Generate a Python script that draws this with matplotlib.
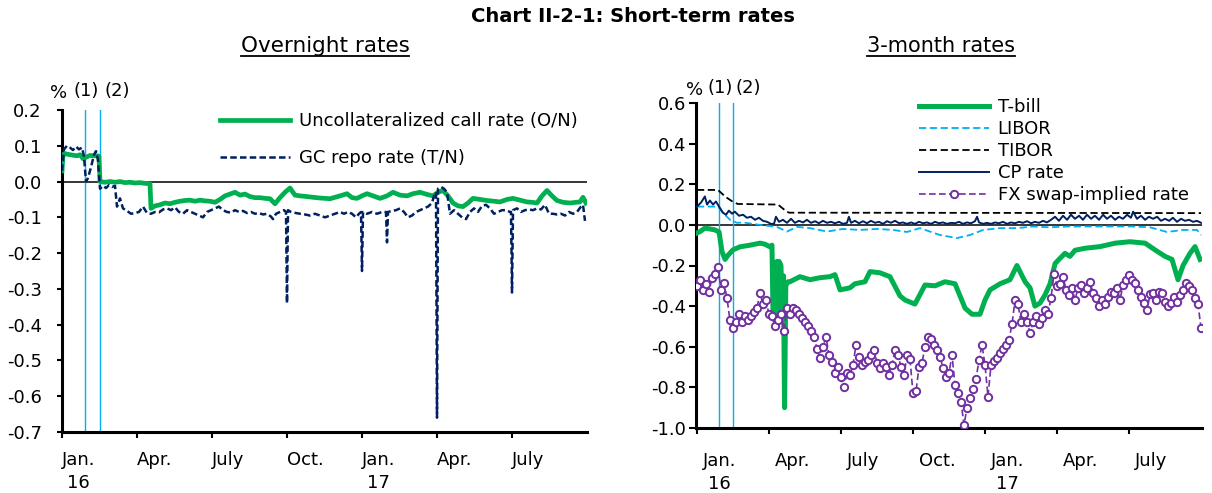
import matplotlib
matplotlib.use('Agg')
import matplotlib.pyplot as plt
import matplotlib.ticker as mticker
import matplotlib.transforms as mtransforms
import numpy as np

# time axis: months since 1 Jan. 2016 (3 = Apr. 16, 12 = Jan. 17)
tick_t = [0, 3, 6, 9, 12, 15, 18]
tick_labels = ['Jan.\n16', 'Apr.', 'July', 'Oct.', 'Jan.\n17', 'Apr.', 'July']

# (1) 29 Jan. 2016, (2) 16 Feb. 2016
event_t = [0.92, 1.5]
event_labels = ['(1)', '(2)']

# ---- overnight rates ----
call_t = [0.0, 0.04, 0.12, 0.32, 0.6, 0.72, 0.84, 0.96, 1.12, 1.24,
          1.44, 1.48, 1.52, 1.72, 1.92, 2.12, 2.32, 2.52, 2.72, 2.92,
          3.12, 3.32, 3.52, 3.56, 3.72, 3.92, 4.12, 4.32, 4.52, 4.72,
          4.92, 5.12, 5.32, 5.52, 5.72, 5.92, 6.12, 6.32, 6.52, 6.72,
          6.92, 7.12, 7.32, 7.52, 7.72, 7.92, 8.12, 8.32, 8.52, 8.72,
          8.92, 9.12, 9.32, 9.52, 9.8, 10.04, 10.32, 10.72, 11.12, 11.4,
          11.6, 11.8, 12.0, 12.2, 12.44, 12.72, 13.0, 13.24, 13.52, 13.8,
          14.04, 14.32, 14.6, 14.84, 15.04, 15.24, 15.44, 15.64, 15.84, 16.04,
          16.24, 16.44, 16.72, 17.0, 17.28, 17.52, 17.8, 18.04, 18.32, 18.6,
          18.8, 19.0, 19.2, 19.4, 19.6, 19.8, 20.04, 20.32, 20.56, 20.72,
          20.84, 20.96]
call_v = [0.03, 0.075, 0.078, 0.075, 0.072, 0.075, 0.064, 0.068, 0.073, 0.072,
          0.072, 0.07, 0.0, -0.002, 0.0, -0.002, 0.0, -0.003, -0.002, -0.004,
          -0.003, -0.005, -0.006, -0.075, -0.068, -0.065, -0.06, -0.062, -0.058, -0.055,
          -0.053, -0.052, -0.055, -0.052, -0.054, -0.055, -0.058, -0.05, -0.04, -0.035,
          -0.03, -0.038, -0.035, -0.042, -0.045, -0.045, -0.047, -0.048, -0.062, -0.045,
          -0.03, -0.018, -0.038, -0.04, -0.042, -0.044, -0.046, -0.048, -0.04, -0.034,
          -0.045, -0.047, -0.04, -0.034, -0.04, -0.047, -0.04, -0.03, -0.038, -0.04,
          -0.034, -0.03, -0.036, -0.04, -0.03, -0.025, -0.04, -0.06, -0.068, -0.07,
          -0.06, -0.047, -0.05, -0.053, -0.055, -0.057, -0.05, -0.047, -0.052, -0.057,
          -0.058, -0.06, -0.04, -0.025, -0.04, -0.053, -0.058, -0.06, -0.058, -0.057,
          -0.044, -0.06]

repo_t = [0.0, 0.08, 0.2, 0.32, 0.44, 0.56, 0.68, 0.8, 0.88, 0.96,
          1.04, 1.16, 1.28, 1.36, 1.44, 1.52, 1.64, 1.76, 1.88, 2.0,
          2.12, 2.2, 2.32, 2.44, 2.6, 2.76, 2.92, 3.08, 3.24, 3.4,
          3.56, 3.72, 3.88, 4.04, 4.2, 4.36, 4.52, 4.68, 4.84, 5.0,
          5.16, 5.32, 5.48, 5.64, 5.8, 5.96, 6.12, 6.28, 6.44, 6.6,
          6.76, 6.92, 7.08, 7.24, 7.4, 7.56, 7.72, 7.88, 8.04, 8.2,
          8.36, 8.44, 8.56, 8.72, 8.88, 8.96, 9.0, 9.04, 9.16, 9.36,
          9.52, 9.72, 9.92, 10.12, 10.32, 10.52, 10.72, 10.92, 11.12, 11.28,
          11.44, 11.6, 11.76, 11.88, 11.96, 12.0, 12.04, 12.2, 12.4, 12.6,
          12.8, 12.96, 13.0, 13.04, 13.2, 13.36, 13.52, 13.68, 13.84, 14.0,
          14.16, 14.32, 14.48, 14.64, 14.8, 14.88, 14.96, 15.0, 15.04, 15.16,
          15.28, 15.4, 15.52, 15.68, 15.84, 16.0, 16.16, 16.32, 16.48, 16.64,
          16.8, 16.96, 17.12, 17.28, 17.44, 17.6, 17.76, 17.92, 17.96, 18.0,
          18.04, 18.2, 18.36, 18.52, 18.68, 18.84, 19.0, 19.16, 19.32, 19.48,
          19.64, 19.8, 19.96, 20.12, 20.28, 20.44, 20.6, 20.76, 20.84, 20.92]
repo_v = [0.03, 0.09, 0.1, 0.095, 0.088, 0.098, 0.09, 0.095, 0.07, 0.0,
          0.01, 0.04, 0.075, 0.085, 0.06, -0.02, -0.012, -0.018, -0.01, -0.015,
          -0.012, -0.07, -0.047, -0.075, -0.082, -0.09, -0.088, -0.085, -0.07, -0.088,
          -0.09, -0.085, -0.086, -0.078, -0.075, -0.08, -0.072, -0.085, -0.09, -0.08,
          -0.085, -0.09, -0.095, -0.1, -0.085, -0.08, -0.075, -0.07, -0.08, -0.085,
          -0.087, -0.08, -0.085, -0.082, -0.088, -0.085, -0.09, -0.088, -0.092, -0.09,
          -0.098, -0.105, -0.09, -0.085, -0.08, -0.085, -0.34, -0.08, -0.085, -0.088,
          -0.09, -0.092, -0.095, -0.09, -0.095, -0.1, -0.095, -0.09, -0.085, -0.09,
          -0.085, -0.09, -0.1, -0.09, -0.085, -0.25, -0.085, -0.09, -0.085, -0.09,
          -0.085, -0.085, -0.17, -0.085, -0.082, -0.08, -0.075, -0.085, -0.1, -0.095,
          -0.085, -0.08, -0.075, -0.07, -0.06, -0.04, -0.03, -0.66, -0.02, -0.015,
          -0.02, -0.03, -0.09, -0.08, -0.09, -0.1, -0.105, -0.085, -0.075, -0.085,
          -0.068, -0.065, -0.075, -0.09, -0.085, -0.08, -0.08, -0.085, -0.085, -0.31,
          -0.08, -0.075, -0.085, -0.08, -0.078, -0.08, -0.075, -0.078, -0.065, -0.09,
          -0.09, -0.092, -0.09, -0.095, -0.085, -0.09, -0.085, -0.07, -0.065, -0.11]

# ---- 3-month rates ----
tbill_t = [0.0, 0.125, 0.33, 0.54, 0.75, 0.92, 1.04, 1.17, 1.29, 1.5,
           1.79, 2.21, 2.625, 2.83, 3.04, 3.125, 3.17, 3.21, 3.33, 3.375,
           3.42, 3.5, 3.55, 3.6, 3.65, 3.7, 3.79, 3.875, 4.29, 4.71,
           5.125, 5.54, 5.75, 5.96, 6.375, 6.58, 7.0, 7.21, 7.625, 8.04,
           8.46, 8.67, 9.08, 9.5, 9.92, 10.33, 10.75, 11.17, 11.46, 11.79,
           12.0, 12.21, 12.625, 13.04, 13.33, 13.67, 13.875, 14.08, 14.29, 14.5,
           14.71, 14.92, 15.125, 15.33, 15.54, 15.75, 16.17, 16.79, 17.42, 18.04,
           18.67, 19.08, 19.5, 19.79, 20.04, 20.25, 20.54, 20.75, 20.96]
tbill_v = [-0.04, -0.033, -0.016, -0.02, -0.025, -0.035, -0.13, -0.17, -0.15, -0.123,
           -0.108, -0.1, -0.09, -0.095, -0.108, -0.1, -0.45, -0.38, -0.18, -0.45,
           -0.18, -0.2, -0.45, -0.25, -0.9, -0.3, -0.28, -0.28, -0.255, -0.27,
           -0.26, -0.255, -0.245, -0.32, -0.31, -0.29, -0.28, -0.23, -0.236, -0.255,
           -0.35, -0.37, -0.39, -0.296, -0.3, -0.28, -0.29, -0.41, -0.44, -0.44,
           -0.37, -0.32, -0.29, -0.27, -0.2, -0.28, -0.31, -0.4, -0.385, -0.345,
           -0.29, -0.19, -0.165, -0.14, -0.155, -0.125, -0.115, -0.107, -0.09, -0.083,
           -0.09, -0.123, -0.155, -0.17, -0.27, -0.2, -0.14, -0.107, -0.17]

libor_t = [0.0, 0.875, 1.08, 1.375, 1.67, 1.92, 2.625, 3.33, 3.75, 4.17,
           4.71, 5.42, 6.08, 6.79, 7.5, 8.17, 8.75, 9.29, 10.125, 10.83,
           11.375, 11.92, 12.625, 13.33, 14.0, 14.71, 15.42, 16.25, 16.79, 17.5,
           18.17, 18.875, 19.58, 20.25, 20.83, 21.0]
libor_v = [0.09, 0.09, 0.06, 0.025, 0.01, 0.012, 0.0, -0.01, -0.033, -0.01,
           -0.016, -0.033, -0.02, -0.025, -0.02, -0.025, -0.035, -0.016, -0.05, -0.065,
           -0.05, -0.025, -0.016, -0.016, -0.008, -0.012, -0.008, -0.008, -0.008, -0.008,
           -0.008, -0.012, -0.035, -0.025, -0.025, -0.05]

tibor_t = [0.0, 0.875, 1.17, 1.5, 1.7, 3.375, 3.75, 3.85, 21.0]
tibor_v = [0.172, 0.172, 0.14, 0.113, 0.103, 0.10, 0.064, 0.06, 0.058]

cp_t = [0.0, 0.17, 0.33, 0.42, 0.54, 0.67, 0.79, 0.92, 1.08, 1.21,
        1.33, 1.46, 1.58, 1.75, 1.92, 2.08, 2.25, 2.42, 2.58, 2.75,
        2.92, 3.08, 3.21, 3.29, 3.42, 3.58, 3.75, 3.92, 4.08, 4.25,
        4.42, 4.58, 4.75, 4.92, 5.08, 5.25, 5.42, 5.58, 5.75, 5.92,
        6.08, 6.25, 6.33, 6.42, 6.58, 6.75, 6.92, 7.08, 7.25, 7.42,
        7.58, 7.75, 7.92, 8.08, 8.25, 8.42, 8.58, 8.75, 8.92, 9.08,
        9.25, 9.42, 9.58, 9.75, 9.92, 10.08, 10.25, 10.42, 10.58, 10.75,
        10.92, 11.08, 11.25, 11.42, 11.58, 11.67, 11.75, 11.92, 12.08, 12.25,
        12.42, 12.58, 12.75, 12.92, 13.08, 13.25, 13.42, 13.58, 13.75, 13.92,
        14.08, 14.25, 14.42, 14.58, 14.75, 14.92, 15.08, 15.25, 15.42, 15.58,
        15.75, 15.92, 16.08, 16.25, 16.42, 16.58, 16.75, 16.92, 17.08, 17.25,
        17.42, 17.58, 17.75, 17.92, 18.08, 18.17, 18.33, 18.5, 18.67, 18.83,
        19.0, 19.17, 19.33, 19.5, 19.67, 19.83, 20.0, 20.17, 20.33, 20.5,
        20.67, 20.83, 21.0]
cp_v = [0.09, 0.11, 0.14, 0.10, 0.12, 0.10, 0.115, 0.09, 0.06, 0.05,
        0.07, 0.055, 0.065, 0.045, 0.05, 0.035, 0.04, 0.025, 0.035, 0.02,
        0.015, 0.005, 0.005, 0.04, 0.015, 0.025, 0.01, 0.03, 0.01, 0.02,
        0.012, 0.025, 0.01, 0.018, 0.008, 0.02, 0.01, 0.015, 0.008, 0.015,
        0.005, 0.01, 0.04, 0.01, 0.02, 0.008, 0.018, 0.008, 0.02, 0.01,
        0.015, 0.005, 0.018, 0.01, 0.02, 0.008, 0.012, 0.005, 0.012, 0.005,
        0.015, 0.008, 0.012, 0.005, 0.015, 0.008, 0.012, 0.005, 0.01, 0.008,
        0.015, 0.005, 0.012, 0.008, 0.018, 0.04, 0.012, 0.005, 0.01, 0.005,
        0.012, 0.008, 0.015, 0.005, 0.012, 0.008, 0.015, 0.01, 0.018, 0.008,
        0.015, 0.01, 0.02, 0.012, 0.025, 0.04, 0.02, 0.045, 0.025, 0.05,
        0.03, 0.045, 0.025, 0.05, 0.03, 0.045, 0.025, 0.05, 0.03, 0.045,
        0.025, 0.04, 0.03, 0.05, 0.035, 0.065, 0.03, 0.045, 0.025, 0.04,
        0.03, 0.04, 0.02, 0.03, 0.02, 0.035, 0.015, 0.03, 0.02, 0.025,
        0.015, 0.02, 0.01]

# fx swap-implied rate, read every 1/8 month from the start of 2016
fx_v = [-0.30, -0.27, -0.32, -0.29, -0.33, -0.26, -0.24, -0.205, -0.32, -0.285,
        -0.36, -0.47, -0.51, -0.48, -0.44, -0.48, -0.45, -0.47, -0.45, -0.43,
        -0.41, -0.335, -0.39, -0.37, -0.44, -0.45, -0.50, -0.47, -0.44, -0.52,
        -0.41, -0.44, -0.41, -0.42, -0.44, -0.46, -0.48, -0.50, -0.52, -0.55,
        -0.61, -0.655, -0.60, -0.55, -0.64, -0.675, -0.73, -0.70, -0.75, -0.80,
        -0.73, -0.74, -0.69, -0.59, -0.65, -0.69, -0.675, -0.665, -0.64, -0.615,
        -0.68, -0.705, -0.68, -0.70, -0.74, -0.69, -0.615, -0.64, -0.70, -0.74,
        -0.64, -0.66, -0.83, -0.82, -0.70, -0.68, -0.60, -0.55, -0.56, -0.59,
        -0.615, -0.65, -0.705, -0.75, -0.73, -0.64, -0.79, -0.83, -0.87, -0.985,
        -0.90, -0.85, -0.81, -0.76, -0.665, -0.59, -0.69, -0.845, -0.69, -0.67,
        -0.655, -0.63, -0.61, -0.59, -0.565, -0.49, -0.37, -0.39, -0.48, -0.44,
        -0.48, -0.53, -0.48, -0.45, -0.49, -0.46, -0.42, -0.44, -0.36, -0.24,
        -0.30, -0.29, -0.255, -0.32, -0.345, -0.31, -0.37, -0.31, -0.295, -0.335,
        -0.31, -0.28, -0.335, -0.36, -0.40, -0.37, -0.39, -0.355, -0.33, -0.335,
        -0.31, -0.37, -0.295, -0.27, -0.245, -0.27, -0.285, -0.32, -0.355, -0.385,
        -0.42, -0.34, -0.335, -0.37, -0.33, -0.335, -0.38, -0.40, -0.385, -0.355,
        -0.38, -0.345, -0.32, -0.285, -0.30, -0.32, -0.36, -0.39, -0.51]
fx_t = np.arange(len(fx_v)) / 8

GREEN = '#00b050'
NAVY = '#002060'
SKY = '#00b0f0'
PURPLE = '#7030a0'

plt.rcParams['font.family'] = 'DejaVu Sans'
plt.rcParams['font.size'] = 13

W, H = 1212, 493
fig = plt.figure(figsize=(W / 100, H / 100), dpi=100)


def fmt(v, pos):
    return f"{round(v, 1) + 0.0:.1f}"


def style_axis(ax, ylo, yhi, ystep, ypad, ylen):
    ax.set_ylim(ylo, yhi)
    ax.yaxis.set_major_locator(mticker.MultipleLocator(ystep))
    ax.yaxis.set_major_formatter(mticker.FuncFormatter(fmt))
    for side in ['top', 'right']:
        ax.spines[side].set_visible(False)
    for side in ['left', 'bottom']:
        ax.spines[side].set_linewidth(2.2)
    ax.tick_params(axis='y', direction='out', length=ylen, width=1.5, pad=ypad, labelsize=13)
    ax.tick_params(axis='x', direction='out', length=4.5, width=1.5, labelsize=13)
    ax.set_xticks(tick_t, tick_labels)
    for lbl in ax.get_xticklabels():
        lbl.set_horizontalalignment('left')
        lbl.set_multialignment('center')
        lbl.set_linespacing(1.35)
    ax.axhline(0, color='black', lw=1.1, zorder=1)
    for t in event_t:
        ax.axvline(t, color=SKY, lw=1.0, zorder=1)


# overnight rates panel
ax1 = fig.add_axes([62 / W, 1 - 432 / H, 525 / W, 322 / H])
ax1.plot(call_t, call_v, color=GREEN, lw=3.4, label='Uncollateralized call rate (O/N)', zorder=3)
ax1.plot(repo_t, repo_v, color=NAVY, lw=1.8, dashes=(2.6, 1.3),
         label='GC repo rate (T/N)', zorder=4)
ax1.set_xlim(0, 21)
style_axis(ax1, -0.7, 0.2, 0.1, 11, 3.5)
ax1.tick_params(axis='x', pad=9)
ax1.legend(loc='upper left', bbox_to_anchor=(220 / W, 1 - 112 / H),
           bbox_transform=fig.transFigure, frameon=False, fontsize=13,
           handlelength=3.9, handletextpad=0.45, labelspacing=1.05,
           borderpad=0, borderaxespad=0)

# 3-month rates panel
ax2 = fig.add_axes([696 / W, 1 - 428 / H, 506 / W, 325 / H])
ax2.plot(tbill_t, tbill_v, color=GREEN, lw=3.6, label='T-bill', zorder=3)
ax2.plot(libor_t, libor_v, color=SKY, lw=1.3, dashes=(4, 2), label='LIBOR', zorder=3)
ax2.plot(tibor_t, tibor_v, color='black', lw=1.3, dashes=(4, 2), label='TIBOR', zorder=3)
ax2.plot(cp_t, cp_v, color=NAVY, lw=1.4, label='CP rate', zorder=4)
ax2.plot(fx_t, fx_v, color=PURPLE, lw=1.2, dashes=(4, 2), marker='o', ms=5.3,
         mfc='white', mec=PURPLE, mew=1.4, label='FX swap-implied rate', zorder=5)
ax2.set_xlim(-0.04, 21.04)
style_axis(ax2, -1.0, 0.6, 0.2, 2, 5)
ax2.tick_params(axis='x', pad=13)
shift = mtransforms.ScaledTranslation(0.06, 0, fig.dpi_scale_trans)
for lbl in ax2.get_xticklabels():
    lbl.set_transform(lbl.get_transform() + shift)
ax2.legend(loc='upper left', bbox_to_anchor=(919 / W, 1 - 98 / H),
           bbox_transform=fig.transFigure, frameon=False, fontsize=13,
           handlelength=3.9, handletextpad=0.45, labelspacing=0.22,
           borderpad=0, borderaxespad=0)

# titles
fig.text(633 / W, 1 - 16 / H, 'Chart II-2-1: Short-term rates', ha='center', va='center',
         fontsize=14, fontweight='bold')
subs = [fig.text(325 / W, 1 - 46 / H, 'Overnight rates', ha='center', va='center', fontsize=15.5),
        fig.text(941 / W, 1 - 46 / H, '3-month rates', ha='center', va='center', fontsize=15)]

# unit and event labels above each panel
fig.text(59 / W, 1 - 93 / H, '%', ha='center', va='center', fontsize=13)
fig.text(86 / W, 1 - 91 / H, event_labels[0], ha='center', va='center', fontsize=13)
fig.text(117 / W, 1 - 91 / H, event_labels[1], ha='center', va='center', fontsize=13)
fig.text(695 / W, 1 - 90 / H, '%', ha='center', va='center', fontsize=13)
fig.text(720 / W, 1 - 88 / H, event_labels[0], ha='center', va='center', fontsize=13)
fig.text(748 / W, 1 - 88 / H, event_labels[1], ha='center', va='center', fontsize=13)

# underline the panel titles
fig.canvas.draw()
for s in subs:
    bb = s.get_window_extent().transformed(fig.transFigure.inverted())
    fig.add_artist(plt.Line2D([bb.x0, bb.x1], [1 - 56 / H, 1 - 56 / H],
                              color='black', lw=1.3, transform=fig.transFigure))

plt.savefig('out.png', dpi=100)
plt.close(fig)
